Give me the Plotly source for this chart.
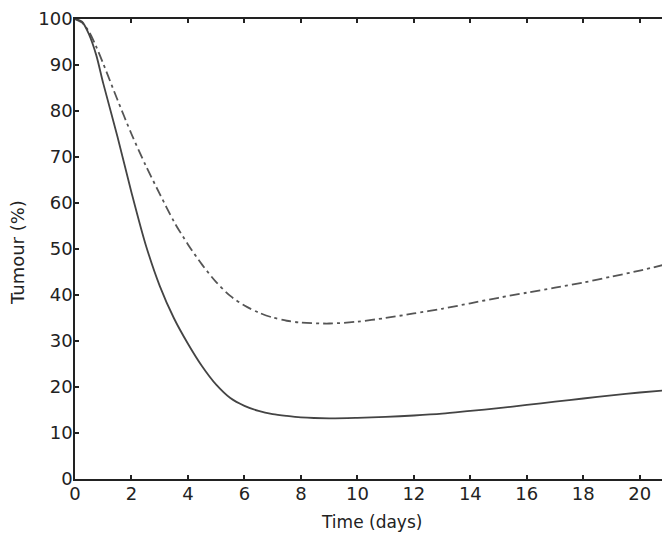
import plotly.graph_objects as go

# Time axis (days) and the two tumour curves
days = [0, 0.25, 0.5, 0.75, 1, 1.5, 2, 2.5, 3, 3.5, 4, 4.5, 5, 5.5, 6, 6.5, 7, 7.5,
        8, 9, 10, 11, 12, 13, 14, 15, 16, 17, 18, 19, 20, 21]
tumour_solid = [100, 99.4, 96.6, 92.2, 86.0, 74.5, 62.3, 51.0, 42.0, 35.0, 29.4, 24.5, 20.5, 17.6,
                15.9, 14.8, 14.1, 13.7, 13.4, 13.2, 13.3, 13.5, 13.8, 14.2, 14.8, 15.4,
                16.1, 16.8, 17.5, 18.2, 18.8, 19.3]
tumour_dashdot = [100, 99.2, 97.2, 94.0, 90.3, 82.5, 75.0, 68.2, 62.0, 56.0, 51.0, 46.6, 42.8, 39.8,
                  37.7, 36.2, 35.1, 34.4, 34.0, 33.8, 34.2, 35.0, 36.0, 37.0, 38.2, 39.4,
                  40.5, 41.6, 42.7, 44.0, 45.3, 46.8]

x_ticks = list(range(0, 21, 2))
y_ticks = list(range(0, 101, 10))

fig = go.Figure()
fig.add_trace(go.Scatter(x=days, y=tumour_dashdot, mode='lines', line_shape='spline',
                         line=dict(color='#555555', width=1.8, dash='10px,4px,3px,4px', smoothing=0.8)))
fig.add_trace(go.Scatter(x=days, y=tumour_solid, mode='lines', line_shape='spline',
                         line=dict(color='#444444', width=1.8, smoothing=0.8)))

axis_style = dict(showgrid=False, zeroline=False, showline=True, mirror='ticks',
                  linecolor='#222222', linewidth=1.5, ticks='inside', ticklen=4,
                  tickwidth=1.5, tickcolor='#222222', ticklabeloverflow='allow',
                  automargin=False,
                  tickfont=dict(family='DejaVu Sans', size=18, color='#222222'))

fig.update_xaxes(range=[0, 21], tickvals=x_ticks, ticklabelstandoff=-2, **axis_style)
fig.update_yaxes(range=[0, 100], tickvals=y_ticks, ticklabelstandoff=-3, **axis_style)

fig.update_layout(
    width=670, height=534, showlegend=False,
    margin=dict(l=67, r=10, t=11, b=63, autoexpand=False),
    plot_bgcolor='white', paper_bgcolor='white',
    annotations=[
        dict(text='Time (days)', xref='paper', yref='paper', x=0.5, y=0,
             xanchor='center', yanchor='middle', yshift=-43, showarrow=False,
             font=dict(family='DejaVu Sans', size=17, color='#222222')),
        dict(text='Tumour (%)', xref='paper', yref='paper', x=0, y=0.5,
             xanchor='center', yanchor='middle', xshift=-58, yshift=-4, textangle=-90,
             showarrow=False, font=dict(family='DejaVu Sans', size=18, color='#222222')),
    ],
)

fig.write_html("out.html")
